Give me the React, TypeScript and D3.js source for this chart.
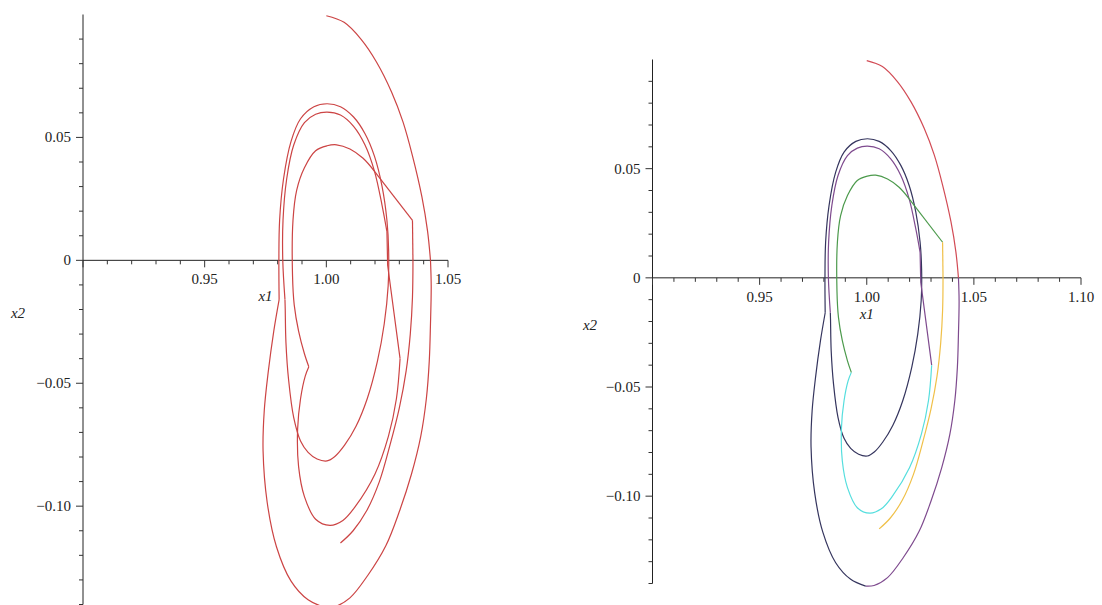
import * as d3 from "d3";

type Pt = [number, number];

// trajectory pieces (x1, x2), in drawing order
const redArc: Pt[] = [
  [1.0, 0.0995], [1.0073, 0.0968], [1.0143, 0.0899], [1.0206, 0.0807], [1.0268, 0.0685],
  [1.0315, 0.0563], [1.0354, 0.0425], [1.0393, 0.0257], [1.0416, 0.0119], [1.0428, 0.0],
];
const purpleOuter: Pt[] = [
  [1.0428, 0.0], [1.0431, -0.0105], [1.0428, -0.0258], [1.0423, -0.041], [1.0411, -0.0563],
  [1.0388, -0.0716], [1.035, -0.0869], [1.03, -0.1022], [1.0245, -0.116], [1.017, -0.1282],
  [1.0097, -0.1373], [1.0034, -0.1409], [0.9995, -0.1412],
];
const navyOuterLeft: Pt[] = [
  [0.9995, -0.1412], [0.9925, -0.1381], [0.9855, -0.1305], [0.9795, -0.1165], [0.9757, -0.0985],
  [0.974, -0.0775], [0.9745, -0.061], [0.9761, -0.0456], [0.9784, -0.0288], [0.9806, -0.016],
];
const navyLoop: Pt[] = [
  [0.9806, -0.016], [0.9805, 0.0], [0.9808, 0.0163], [0.9824, 0.0331], [0.9855, 0.0484],
  [0.9894, 0.0576], [0.9949, 0.0625], [1.0003, 0.0637], [1.0058, 0.0625], [1.0112, 0.0583],
  [1.0159, 0.0515], [1.0198, 0.0423], [1.0229, 0.0301], [1.0249, 0.0163], [1.0256, 0.0041],
  [1.0254, -0.0105], [1.0238, -0.0258], [1.021, -0.041], [1.0168, -0.0563], [1.0122, -0.0675],
  [1.0075, -0.0752], [1.0035, -0.0798], [1.0003, -0.0816], [0.9962, -0.0808], [0.9925, -0.0781],
  [0.9894, -0.0735], [0.9866, -0.064], [0.9845, -0.0487], [0.9834, -0.0334], [0.9831, -0.0196],
  [0.983, -0.016],
];
const purpleMiddle: Pt[] = [
  [0.983, -0.016], [0.9821, 0.0], [0.9822, 0.0163], [0.9837, 0.0331], [0.9866, 0.0469],
  [0.991, 0.056], [0.9956, 0.0594], [1.0003, 0.0603], [1.0058, 0.0591], [1.0112, 0.0545],
  [1.0159, 0.0469], [1.0198, 0.0362], [1.0229, 0.0224], [1.0249, 0.0117],
];
const purpleLink: Pt[] = [[1.0249, 0.0117], [1.0252, -0.002], [1.0303, -0.04]];
const cyanLoop: Pt[] = [
  [1.0303, -0.04], [1.0288, -0.0563], [1.0255, -0.0716], [1.02, -0.0869], [1.012, -0.1],
  [1.0068, -0.1058], [1.0015, -0.1078], [0.9956, -0.1053], [0.991, -0.0961], [0.9886, -0.0839],
  [0.9882, -0.0686], [0.9894, -0.0563], [0.9913, -0.0472], [0.9928, -0.0433],
];
const greenArc: Pt[] = [
  [0.9928, -0.0433], [0.991, -0.038], [0.9886, -0.0288], [0.9868, -0.0181], [0.9861, -0.006],
  [0.9863, 0.0163], [0.9878, 0.0285], [0.991, 0.0377], [0.9956, 0.0446], [1.0003, 0.0466],
  [1.0042, 0.047], [1.0097, 0.0453], [1.0151, 0.0415], [1.0198, 0.0362],
];
const greenLink: Pt[] = [[1.0198, 0.0362], [1.0354, 0.0163]];
const yellowDrop: Pt[] = [[1.0354, 0.0163], [1.0356, 0.0]];
const yellowTail: Pt[] = [
  [1.0356, 0.0], [1.0354, -0.015], [1.0345, -0.03], [1.0328, -0.045], [1.03, -0.06],
  [1.0262, -0.075], [1.0218, -0.09], [1.0165, -0.102], [1.011, -0.11], [1.0058, -0.115],
];

const pieces = [
  { pts: redArc, color: "#d24b55", curved: true },
  { pts: purpleOuter, color: "#7e4a8e", curved: true },
  { pts: navyOuterLeft, color: "#35355e", curved: true },
  { pts: navyLoop, color: "#35355e", curved: true },
  { pts: purpleMiddle, color: "#7e4a8e", curved: true },
  { pts: purpleLink, color: "#7e4a8e", curved: false },
  { pts: cyanLoop, color: "#55dede", curved: true },
  { pts: greenArc, color: "#4c9a4c", curved: true },
  { pts: greenLink, color: "#4c9a4c", curved: false },
  { pts: yellowDrop, color: "#f0c048", curved: false },
  { pts: yellowTail, color: "#f0c048", curved: true },
];

const yTickValues = [-0.1, -0.05, 0, 0.05];
const yTickLabels = ["\u22120.10", "\u22120.05", "0", "0.05"];
const xTickValuesLeft = [0.95, 1.0, 1.05];
const xTickLabelsLeft = ["0.95", "1.00", "1.05"];
const xTickValuesRight = [0.95, 1.0, 1.05, 1.1];
const xTickLabelsRight = ["0.95", "1.00", "1.05", "1.10"];

const FONT = "'Liberation Serif', 'Times New Roman', serif";

const Panel = ({ xDomain, xPx, yPx, xTicks, xLabels, mono, id, x2Pos }) => {
  const xScale = d3.scaleLinear().domain(xDomain).range(xPx);
  const yScale = d3.scaleLinear().domain([-0.14, 0.1]).range(yPx);
  const x0 = xScale(0.9);
  const y0 = yScale(0);

  const minorX = d3.range(Math.round((xDomain[1] - 0.9) / 0.01) + 1).map((i) => 0.9 + i * 0.01);
  const minorY = d3.range(24).map((i) => -0.14 + i * 0.01);

  const smooth = d3
    .line<Pt>()
    .x((d) => xScale(d[0]))
    .y((d) => yScale(d[1]))
    .curve(d3.curveCatmullRom.alpha(0.5));
  const straight = d3
    .line<Pt>()
    .x((d) => xScale(d[0]))
    .y((d) => yScale(d[1]));

  return (
    <g id={id}>
      {/* axes */}
      <line x1={x0} x2={xPx[1]} y1={y0} y2={y0} stroke="#222" strokeWidth={1} />
      <line x1={x0} x2={x0} y1={yPx[1]} y2={yPx[0]} stroke="#222" strokeWidth={1} />
      {minorX.map((v, i) => {
        const major = Math.abs(Math.round(v * 100) % 5) === 0;
        return (
          <line key={"mx" + i} x1={xScale(v)} x2={xScale(v)} y1={y0} y2={y0 + (major ? 7 : 4)} stroke="#333" strokeWidth={1} />
        );
      })}
      {minorY.map((v, i) => {
        const major = Math.abs(Math.round(v * 100) % 5) === 0;
        return (
          <line key={"my" + i} x1={x0 - (major ? 7 : 4)} x2={x0} y1={yScale(v)} y2={yScale(v)} stroke="#333" strokeWidth={1} />
        );
      })}
      {xTicks.map((v, i) => (
        <text key={"xl" + i} x={xScale(v)} y={y0 + 24} textAnchor="middle" fontFamily={FONT} fontSize={15} fill="#222">
          {xLabels[i]}
        </text>
      ))}
      {yTickValues.map((v, i) => (
        <text key={"yl" + i} x={x0 - 12} y={yScale(v) + 5} textAnchor="end" fontFamily={FONT} fontSize={15} fill="#222">
          {yTickLabels[i]}
        </text>
      ))}
      <text x={(xPx[0] + xPx[1]) / 2} y={y0 + 41} textAnchor="middle" fontFamily={FONT} fontStyle="italic" fontSize={15} fill="#222">
        x1
      </text>
      <text x={x2Pos} y={(yPx[0] + yPx[1]) / 2 + 8} textAnchor="middle" fontFamily={FONT} fontStyle="italic" fontSize={15} fill="#222">
        x2
      </text>
      {/* trajectory */}
      {pieces.map((p, i) => (
        <path
          key={"p" + i}
          d={(p.curved ? smooth : straight)(p.pts) || ""}
          fill="none"
          stroke={mono ? "#cc4444" : p.color}
          strokeWidth={1.2}
          strokeLinejoin="round"
        />
      ))}
    </g>
  );
};

export default function App() {
  return (
    <svg width={1102} height={605} style={{ position: "absolute", left: 0, top: 0, background: "#fff" }}>
      <rect width={1102} height={605} fill="#fff" />
      <Panel id="left" xDomain={[0.9, 1.05]} xPx={[83, 448]} yPx={[604.5, 14.5]} xTicks={xTickValuesLeft} xLabels={xTickLabelsLeft} mono={true} x2Pos={18} />
      <Panel id="right" xDomain={[0.9, 1.1]} xPx={[652.5, 1081]} yPx={[583.5, 59.5]} xTicks={xTickValuesRight} xLabels={xTickLabelsRight} mono={false} x2Pos={590} />
    </svg>
  );
}
